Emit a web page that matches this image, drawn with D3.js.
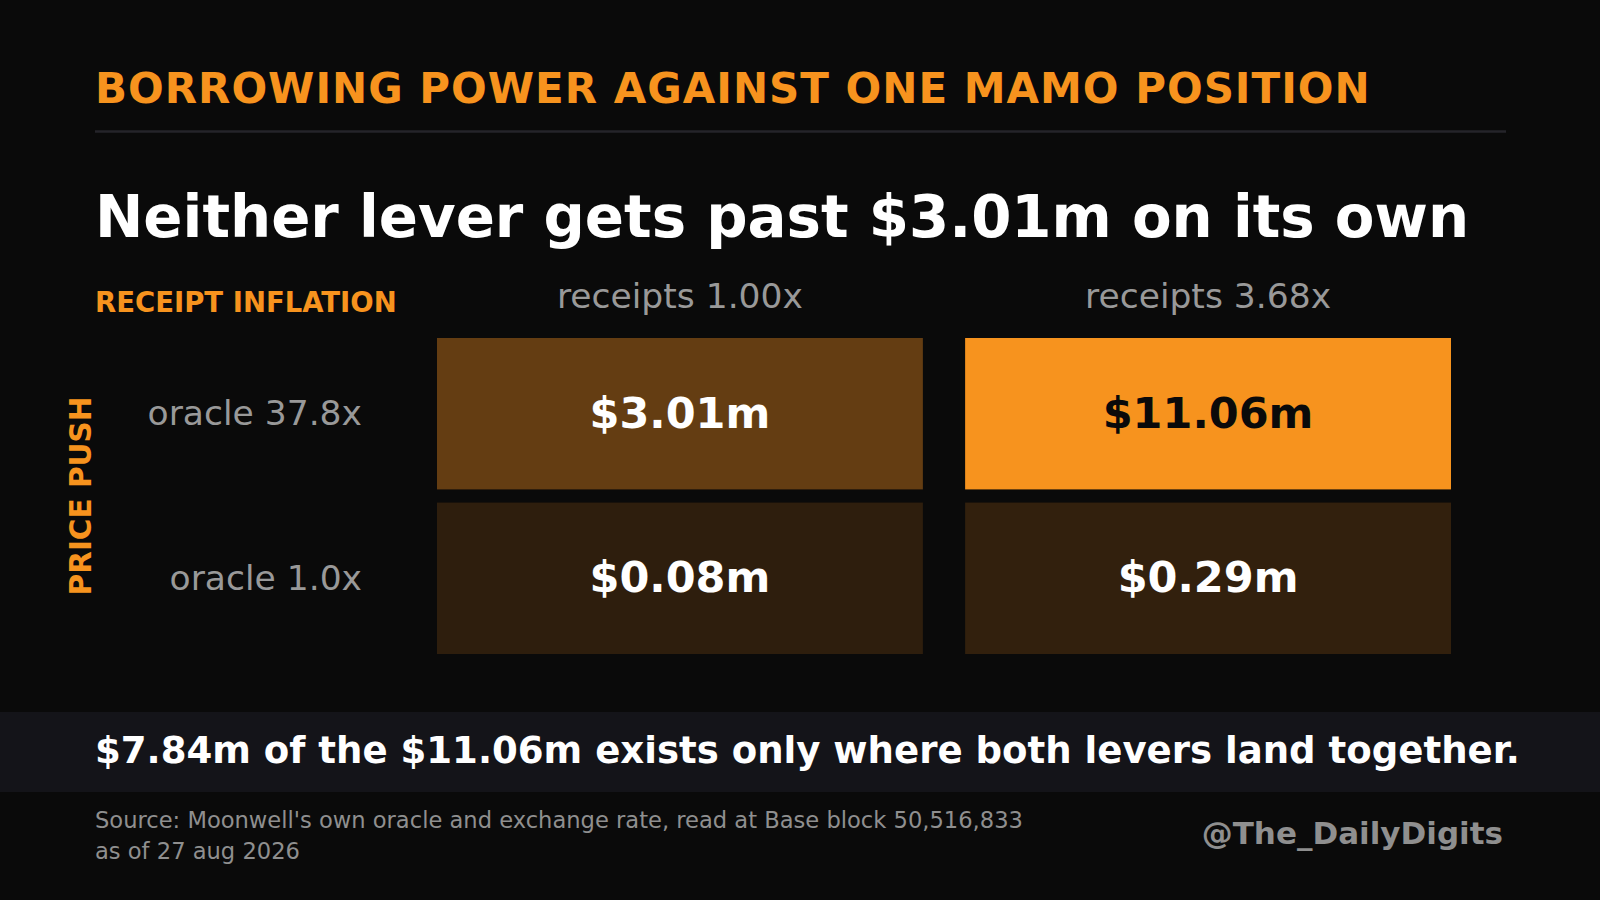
<!DOCTYPE html>
<html>
<head>
<meta charset="utf-8">
<script src="https://cdn.jsdelivr.net/npm/d3@7"></script>
<style>
  html, body { margin: 0; padding: 0; background: #0a0a0a; }
  svg { display: block; font-family: "DejaVu Sans", sans-serif; }
</style>
</head>
<body>
<svg id="chart"></svg>
<script>
// data
var colLabels = ["receipts 1.00x", "receipts 3.68x"];
var rowLabels = ["oracle 37.8x", "oracle 1.0x"];
var rowValues = [[3.01, 11.06], [0.08, 0.29]];
var valueLabels = [["$3.01m", "$11.06m"], ["$0.08m", "$0.29m"]];

var title = "BORROWING POWER AGAINST ONE MAMO POSITION";
var headline = "Neither lever gets past $3.01m on its own";
var colAxisTitle = "RECEIPT INFLATION";
var rowAxisTitle = "PRICE PUSH";
var takeaway = "$7.84m of the $11.06m exists only where both levers land together.";
var sourceLines = ["Source: Moonwell's own oracle and exchange rate, read at Base block 50,516,833", "as of 27 aug 2026"];
var handle = "@The_DailyDigits";

// colours
var orange = "#f7931e",
    bg = "#0a0a0a",
    gray = "#999999";

var W = 1600, H = 900, left = 95;

var svg = d3.select("#chart").attr("width", W).attr("height", H);
svg.append("rect").attr("width", W).attr("height", H).attr("fill", bg);

// header
svg.append("text")
   .attr("x", left).attr("y", 103)
   .attr("fill", orange)
   .attr("font-size", 42).attr("font-weight", "bold")
   .attr("letter-spacing", 1.0)
   .text(title);

svg.append("line")
   .attr("x1", left).attr("x2", 1506)
   .attr("y1", 131.5).attr("y2", 131.5)
   .attr("stroke", "#25242a").attr("stroke-width", 2.5);

svg.append("text")
   .attr("x", left).attr("y", 237)
   .attr("fill", "#ffffff")
   .attr("font-size", 57.8).attr("font-weight", "bold")
   .text(headline);

// grid scales
var cells = [];
rowValues.forEach(function(row, i){
    row.forEach(function(v, j){
        cells.push({row: rowLabels[i], col: colLabels[j], value: v, label: valueLabels[i][j]});
    });
});

var x = d3.scaleBand().domain(colLabels).range([437, 1451]).paddingInner(0.08);
var y = d3.scaleBand().domain(rowLabels).range([338, 654]).paddingInner(0.08);
var maxV = d3.max(cells, function(d){ return d.value; });
var color = d3.scaleLinear().domain([0, maxV]).range(["#2d1d0d", orange]);

var grid = svg.append("g");

grid.selectAll(".cell")
    .data(cells)
    .enter().append("rect")
    .attr("class", "cell")
    .attr("x", function(d){ return x(d.col); })
    .attr("y", function(d){ return y(d.row); })
    .attr("width", x.bandwidth())
    .attr("height", y.bandwidth())
    .attr("fill", function(d){ return color(d.value); });

grid.selectAll(".cellLabel")
    .data(cells)
    .enter().append("text")
    .attr("class", "cellLabel")
    .attr("x", function(d){ return x(d.col) + x.bandwidth() / 2; })
    .attr("y", function(d){ return y(d.row) + y.bandwidth() / 2; })
    .attr("dy", "0.33em")
    .attr("text-anchor", "middle")
    .attr("font-size", 43).attr("font-weight", "bold")
    .attr("fill", function(d){ return d.value === maxV ? bg : "#ffffff"; })
    .text(function(d){ return d.label; });

// column labels
grid.selectAll(".colLabel")
    .data(colLabels)
    .enter().append("text")
    .attr("class", "colLabel")
    .attr("x", function(d){ return x(d) + x.bandwidth() / 2; })
    .attr("y", 308)
    .attr("text-anchor", "middle")
    .attr("font-size", 34.5)
    .attr("fill", gray)
    .text(function(d){ return d; });

// row labels
grid.selectAll(".rowLabel")
    .data(rowLabels)
    .enter().append("text")
    .attr("class", "rowLabel")
    .attr("x", 362)
    .attr("y", function(d){ return y(d) + y.bandwidth() / 2; })
    .attr("dy", "0.33em")
    .attr("text-anchor", "end")
    .attr("font-size", 34.5)
    .attr("fill", gray)
    .text(function(d){ return d; });

svg.append("text")
   .attr("x", left).attr("y", 311.5)
   .attr("fill", orange)
   .attr("font-size", 27.5).attr("font-weight", "bold")
   .text(colAxisTitle);

svg.append("text")
   .attr("transform", "translate(91," + ((y.range()[0] + y.range()[1]) / 2) + ") rotate(-90)")
   .attr("text-anchor", "middle")
   .attr("fill", orange)
   .attr("font-size", 29.5).attr("font-weight", "bold")
   .text(rowAxisTitle);

// takeaway band
svg.append("rect")
   .attr("x", 0).attr("y", 712)
   .attr("width", W).attr("height", 80)
   .attr("fill", "#141419");

svg.append("text")
   .attr("x", left).attr("y", 763)
   .attr("fill", "#ffffff")
   .attr("font-size", 37.1).attr("font-weight", "bold")
   .text(takeaway);

// footer
svg.selectAll(".source")
   .data(sourceLines)
   .enter().append("text")
   .attr("class", "source")
   .attr("x", left)
   .attr("y", function(d, i){ return 828 + i * 31; })
   .attr("font-size", 22.6)
   .attr("fill", "#8f8f8f")
   .text(function(d){ return d; });

svg.append("text")
   .attr("x", 1503).attr("y", 844)
   .attr("text-anchor", "end")
   .attr("font-size", 31).attr("font-weight", "bold")
   .attr("fill", "#8f8f8f")
   .text(handle);
</script>
</body>
</html>
